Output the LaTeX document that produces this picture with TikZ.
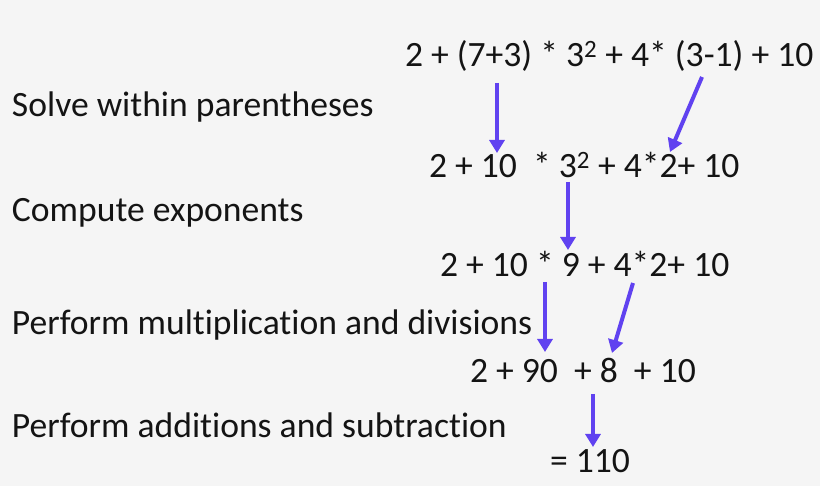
\documentclass[tikz,border=0pt]{standalone}
\usepackage{fontspec}
\setmainfont{Carlito}[Ligatures={NoCommon}]
\usetikzlibrary{arrows.meta}
\definecolor{bgc}{RGB}{245,245,245}
\definecolor{arrc}{RGB}{96,66,240}
\definecolor{txt}{RGB}{20,20,20}
\begin{document}
\begin{tikzpicture}[x=1pt,y=1pt,
  txtnode/.style={anchor=base west,inner sep=0pt,outer sep=0pt,text=txt,font=\fontsize{35.6}{40}\selectfont},
  stepArrow/.style={draw=arrc,line width=4pt,-{Triangle[width=15pt,length=13pt]}}]
\fill[bgc] (0,0) rectangle (820,486);
\useasboundingbox (0,0) rectangle (820,486);
% left labels
\node[txtnode] (l1) at (12,369) {Solve within parentheses};
\node[txtnode] (l2) at (12,264) {Compute exponents};
\node[txtnode] (l3) at (12,151) {Perform multiplication and divisions};
\node[txtnode] (l4) at (12,48) {Perform additions and subtraction};
% expressions
\node[txtnode] (e1) at (405,419) {2 + (7+3) * 3\textsuperscript{2} + 4* (3-1) + 10};
\node[txtnode] (e2) at (429,308) {2 + 10\ \ * 3\textsuperscript{2} + 4*2+ 10};
\node[txtnode] (e3) at (440,209) {2 + 10 * 9 + 4*2+ 10};
\node[txtnode] (e4) at (470,103) {2 + 90\ \ + 8\ \ + 10};
\node[txtnode] (e5) at (550,13) {= 110};
% arrow end points
\coordinate (a1s) at (497,403); \coordinate (a1e) at (497,333);
\coordinate (a2s) at (702,409); \coordinate (a2e) at (670,334);
\coordinate (a3s) at (568,304); \coordinate (a3e) at (568,236);
\coordinate (a4s) at (545,204); \coordinate (a4e) at (545,134);
\coordinate (a5s) at (633,203); \coordinate (a5e) at (612,133);
\coordinate (a6s) at (593,92);  \coordinate (a6e) at (593,39);
\draw[stepArrow] (a1s) -- (a1e);
\draw[stepArrow] (a2s) -- (a2e);
\draw[stepArrow] (a3s) -- (a3e);
\draw[stepArrow] (a4s) -- (a4e);
\draw[stepArrow] (a5s) -- (a5e);
\draw[stepArrow] (a6s) -- (a6e);
\end{tikzpicture}
\end{document}
